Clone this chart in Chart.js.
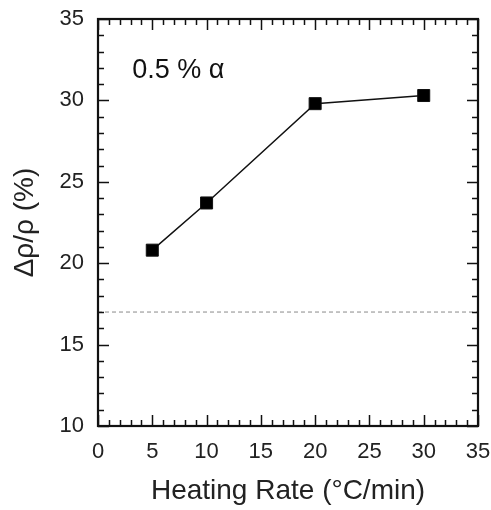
<!DOCTYPE html>
<html>
<head>
<meta charset="utf-8">
<script src="https://cdn.jsdelivr.net/npm/chart.js@4"></script>
<style>
  html, body { margin: 0; padding: 0; background: #fff; }
  #wrap { width: 491px; height: 510px; }
</style>
</head>
<body>
<div id="wrap"><canvas id="rateGraph"></canvas></div>
<script>
// values
var heatingRates = [5, 10, 20, 30];
var resistivityChange = [20.8, 23.7, 29.8, 30.3];
var referenceX = [0, 35];
var referenceLevel = [17, 17];
var xTicks = [0, 5, 10, 15, 20, 25, 30, 35];
var yTicks = [10, 15, 20, 25, 30, 35];
var annotation = '0.5 % \u03b1';

var fontFamily = '"Liberation Sans", Arial, Helvetica, sans-serif';

// inward tick marks on all four sides plus the frame
var frameTicks = {
    id: 'frameTicks',
    afterDraw: function (chart) {
        var ctx = chart.ctx;
        var a = chart.chartArea;
        var xs = chart.scales.x, ys = chart.scales.y;
        ctx.save();
        ctx.strokeStyle = '#111';
        ctx.lineWidth = 1.5;
        var v, px, len;
        for (v = 0; v <= 35; v++) {
            px = Math.round(xs.getPixelForValue(v)) + 0.5;
            len = v % 5 === 0 ? 11 : 6;
            ctx.beginPath();
            ctx.moveTo(px, a.bottom); ctx.lineTo(px, a.bottom - len);
            ctx.moveTo(px, a.top); ctx.lineTo(px, a.top + len);
            ctx.stroke();
        }
        for (v = 10; v <= 35; v++) {
            px = Math.round(ys.getPixelForValue(v)) + 0.5;
            len = v % 5 === 0 ? 11 : 6;
            ctx.beginPath();
            ctx.moveTo(a.left, px); ctx.lineTo(a.left + len, px);
            ctx.moveTo(a.right, px); ctx.lineTo(a.right - len, px);
            ctx.stroke();
        }
        ctx.lineWidth = 2.2;
        ctx.strokeRect(a.left, a.top, a.right - a.left, a.bottom - a.top);

        ctx.fillStyle = '#111';
        ctx.font = '27px ' + fontFamily;
        ctx.textBaseline = 'alphabetic';
        ctx.textAlign = 'left';
        ctx.fillText(annotation, xs.getPixelForValue(3.15), ys.getPixelForValue(31.4));
        ctx.restore();
    }
};

var ctx = document.getElementById('rateGraph').getContext('2d');
var rateGraph = new Chart(ctx, {
    type: 'line',
    data: {
        datasets: [{
            label: 'reference',
            data: referenceX.map(function (x, i) { return { x: x, y: referenceLevel[i] }; }),
            borderColor: '#8a8a8a',
            borderWidth: 1,
            borderDash: [4, 3],
            pointRadius: 0
        }, {
            label: 'Δρ/ρ',
            data: heatingRates.map(function (x, i) { return { x: x, y: resistivityChange[i] }; }),
            borderColor: '#111',
            backgroundColor: '#000',
            borderWidth: 1.5,
            pointStyle: 'rect',
            pointRadius: 8.5,
            pointBorderWidth: 1,
            tension: 0
        }]
    },
    options: {
        responsive: true,
        maintainAspectRatio: false,
        animation: false,
        layout: { padding: { left: 0, right: 13, top: 19, bottom: 0 } },
        plugins: { legend: { display: false }, tooltip: { enabled: false } },
        scales: {
            x: {
                type: 'linear',
                min: 0, max: 35,
                afterBuildTicks: function (s) { s.ticks = xTicks.map(function (v) { return { value: v }; }); },
                afterFit: function (s) { s.height = 84; s.paddingLeft = 0; s.paddingRight = 0; },
                grid: { display: false, drawTicks: false },
                border: { display: false },
                ticks: { color: '#222', padding: 13, font: { family: fontFamily, size: 22 } },
                title: {
                    display: true,
                    text: 'Heating Rate (°C/min)',
                    color: '#222',
                    font: { family: fontFamily, size: 28 },
                    padding: { top: 0, bottom: 2 }
                }
            },
            y: {
                type: 'linear',
                min: 10, max: 35,
                afterBuildTicks: function (s) { s.ticks = yTicks.map(function (v) { return { value: v }; }); },
                afterFit: function (s) { s.width = 98; s.paddingTop = 0; s.paddingBottom = 0; },
                grid: { display: false, drawTicks: false },
                border: { display: false },
                ticks: { color: '#222', padding: 14, font: { family: fontFamily, size: 22 } },
                title: {
                    display: true,
                    text: 'Δρ/ρ (%)',
                    color: '#222',
                    font: { family: fontFamily, size: 28 },
                    padding: { top: 8, bottom: 0 }
                }
            }
        }
    },
    plugins: [frameTicks]
});
</script>
</body>
</html>
